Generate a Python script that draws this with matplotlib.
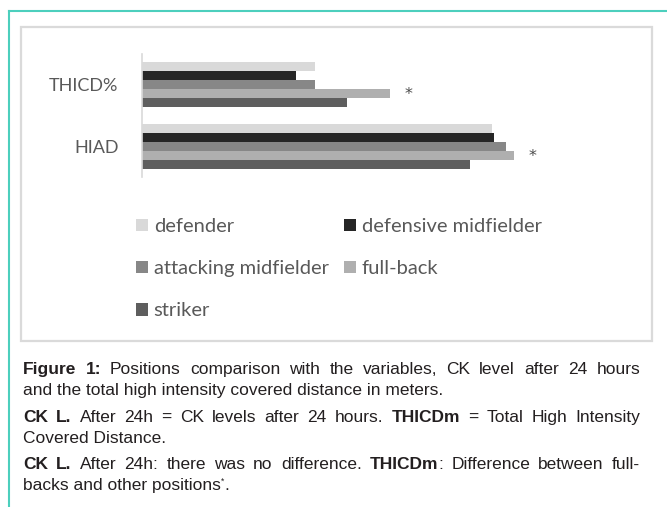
import matplotlib
matplotlib.use('Agg')
import matplotlib.pyplot as plt
from matplotlib.patches import Rectangle, Patch
from matplotlib.lines import Line2D

W, H = 667, 507

# data (arbitrary length units)
variables = ['THICD%', 'HIAD']
positions = ['defender', 'defensive midfielder', 'attacking midfielder', 'full-back', 'striker']
thicd_pct = [173, 154, 173, 248, 205]
hiad = [350, 352, 364, 372, 328]
colors = ['#d9d9d9', '#262626', '#878787', '#afafaf', '#5e5e5e']
significant = 'full-back'

# caption: each line is a list of words, each word a list of (text, style)
# style: 'n' normal, 'b' bold, 's' superscript
cap_lines = [
    ([[('Figure', 'b')], [('1:', 'b')], [('Positions', 'n')], [('comparison', 'n')], [('with', 'n')],
      [('the', 'n')], [('variables,', 'n')], [('CK', 'n')], [('level', 'n')], [('after', 'n')],
      [('24', 'n')], [('hours', 'n')]], True),
    ([[('and the total high intensity covered distance in meters.', 'n')]], False),
    ([[('CK', 'b')], [('L.', 'b')], [('After', 'n')], [('24h', 'n')], [('=', 'n')], [('CK', 'n')],
      [('levels', 'n')], [('after', 'n')], [('24', 'n')], [('hours.', 'n')], [('THICDm', 'b')],
      [('=', 'n')], [('Total', 'n')], [('High', 'n')], [('Intensity', 'n')]], True),
    ([[('Covered Distance.', 'n')]], False),
    ([[('CK', 'b')], [('L.', 'b')], [('After', 'n')], [('24h:', 'n')], [('there', 'n')], [('was', 'n')],
      [('no', 'n')], [('difference.', 'n')], [('THICDm', 'b'), (':', 'n')], [('Difference', 'n')],
      [('between', 'n')], [('full-', 'n')]], True),
    ([[('backs and other positions', 'n'), ('*', 's'), ('.', 'n')]], False),
]
cap_centers = [369, 390, 417, 438, 464, 485]

chart_font = 'Lato'
cap_font = 'Liberation Sans'


def fx(x):
    return x / W


def fy(y):
    return 1 - y / H


fig = plt.figure(figsize=(W / 100, H / 100), dpi=100)
fig.patch.set_facecolor('white')

# teal frame (top and left edges)
fig.add_artist(Line2D([fx(9), 1], [fy(10.5), fy(10.5)], color='#4ccfbd', lw=1.5))
fig.add_artist(Line2D([fx(9), fx(9)], [fy(10.5), 0], color='#4ccfbd', lw=1.5))

# inner grey box, kept behind the axes
fig.add_artist(Rectangle((fx(21), fy(341)), fx(652) - fx(21), fy(27) - fy(341),
                         facecolor='white', edgecolor='#dadada', lw=1.6, zorder=-5))

# bar chart
ax = fig.add_axes([fx(142), fy(177), fx(542) - fx(142), fy(54) - fy(177)])
ax.set_facecolor('none')
pitch = 9 / 62
data = [thicd_pct, hiad]
for i, pos in enumerate(positions):
    vals = [d[i] for d in data]
    ys = [g + (i - 2) * pitch for g in range(len(variables))]
    ax.barh(ys, vals, height=pitch * 0.92, color=colors[i], label=pos)

k = positions.index(significant)
for g in range(len(variables)):
    ax.text(data[g][k] + 19, g + (k - 2) * pitch + 0.01, '*', ha='center', va='center',
            fontsize=11.5, color='#4a4a4a', family='DejaVu Sans')

ax.set_xlim(0, 400)
ax.set_ylim(1.492, -0.492)
ax.set_yticks(range(len(variables)))
ax.set_yticklabels(variables, family=chart_font, fontsize=13, color='#595959')
ax.tick_params(axis='y', length=0, pad=17)
ax.set_xticks([])
for s in ['top', 'right', 'bottom']:
    ax.spines[s].set_visible(False)
ax.spines['left'].set_color('#d9d9d9')
ax.spines['left'].set_linewidth(1.2)

# legend, filled row by row
handles = [Patch(facecolor=c, edgecolor='none') for c in colors]
order = [0, 2, 4, 1, 3]
fig.legend([handles[i] for i in order], [positions[i] for i in order], ncol=2,
           loc='upper left', bbox_to_anchor=(fx(136), fy(218)), frameon=False,
           prop={'family': chart_font, 'size': 14.5}, labelcolor='#595959',
           handlelength=0.6, handleheight=0.6, handletextpad=0.28,
           columnspacing=0.75, labelspacing=1.25, borderpad=0, borderaxespad=0)

# caption, justified like the source
renderer = fig.canvas.get_renderer()
cap_size = 12.5
x_left, x_right = 23, 640


def seg_props(style):
    if style == 's':
        return dict(fontsize=cap_size * 0.5, fontweight='normal')
    return dict(fontsize=cap_size, fontweight='bold' if style == 'b' else 'normal')


def text_width(txt, style):
    t = fig.text(0, 0, txt, family=cap_font, **seg_props(style))
    w = t.get_window_extent(renderer).width
    t.remove()
    return w


space_w = text_width('a a', 'n') - text_width('aa', 'n')

for (words, justify), yc in zip(cap_lines, cap_centers):
    widths = [sum(text_width(t, s) for t, s in w) for w in words]
    if justify and len(words) > 1:
        gap = (x_right - x_left - sum(widths)) / (len(words) - 1)
    else:
        gap = space_w
    x = x_left
    base = yc + 5
    for w, ww in zip(words, widths):
        xs = x
        for t, s in w:
            yy = base - 6 if s == 's' else base
            fig.text(fx(xs), fy(yy), t, family=cap_font, color='#231f20', va='baseline', **seg_props(s))
            xs += text_width(t, s)
        x += ww + gap

fig.savefig('out.png', dpi=100)
